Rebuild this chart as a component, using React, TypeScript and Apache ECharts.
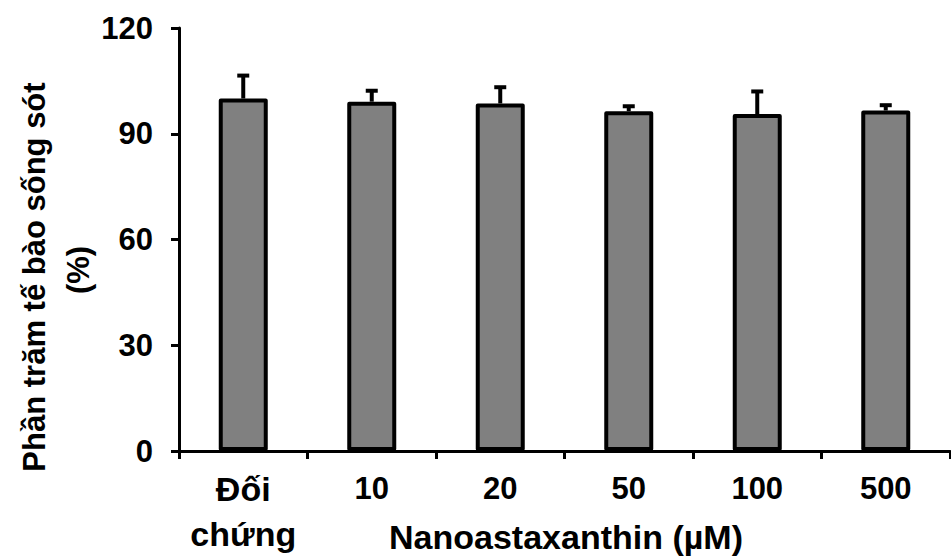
import React, { useEffect, useRef } from "react";
import * as echarts from "echarts";

const categories = ["Đối\nchứng", "10", "20", "50", "100", "500"];
const means = [100, 99.1, 98.6, 96.4, 95.6, 96.6];
const errors = [6.5, 3.1, 4.6, 1.4, 6.4, 1.5];
const yTicks = { min: 0, max: 120, interval: 30 };
const yTitle1 = "Phần trăm tế bào sống sót";
const yTitle2 = "(%)";
const xTitle = "Nanoastaxanthin (µM)";

const FONT = "'Liberation Sans', Arial, Helvetica, sans-serif";

export default function App() {
  const ref = useRef<HTMLDivElement>(null);
  useEffect(() => {
    if (!ref.current) return;
    const chart = echarts.init(ref.current, undefined, { renderer: "svg" });
    const errData = means.map((m, i) => [i, m, m + errors[i]]);
    chart.setOption({
      animation: false,
      backgroundColor: "#ffffff",
      grid: { left: 179, right: 1, top: 28, bottom: 105, outerBoundsMode: "none" },
      xAxis: {
        type: "category",
        data: categories,
        boundaryGap: true,
        axisLine: { show: true, lineStyle: { color: "#000", width: 3 } },
        axisTick: { show: true, length: 8, lineStyle: { color: "#000", width: 3 } },
        axisLabel: {
          color: "#000",
          fontFamily: FONT,
          fontWeight: "bold",
          fontSize: 31,
          lineHeight: 45,
          margin: 15,
          interval: 0,
          formatter: (v: string) =>
            v.indexOf("\n") >= 0
              ? v
                  .split("\n")
                  .map((s) => `{big|${s}}`)
                  .join("\n")
              : v,
          rich: {
            big: {
              color: "#000",
              fontFamily: FONT,
              fontWeight: "bold",
              fontSize: 34,
              lineHeight: 45,
            },
          },
        },
        splitLine: { show: false },
      },
      yAxis: {
        type: "value",
        min: yTicks.min,
        max: yTicks.max,
        interval: yTicks.interval,
        axisLine: { show: true, lineStyle: { color: "#000", width: 3 } },
        axisTick: { show: true, length: 8, lineStyle: { color: "#000", width: 3 } },
        axisLabel: {
          color: "#000",
          fontFamily: FONT,
          fontWeight: "bold",
          fontSize: 31,
          margin: 26,
        },
        splitLine: { show: false },
      },
      series: [
        {
          type: "bar",
          data: means,
          barWidth: 49,
          itemStyle: {
            color: "#808080",
            borderColor: "#000",
            borderWidth: 4,
            borderJoin: "round",
          },
          z: 2,
        },
        {
          type: "custom",
          data: errData,
          z: 3,
          renderItem: (params: any, api: any) => {
            const x = api.value(0);
            const m = api.value(1);
            const hi = api.value(2);
            const p0 = api.coord([x, m]);
            const p1 = api.coord([x, hi]);
            return {
              type: "group",
              children: [
                {
                  type: "line",
                  shape: { x1: p0[0], y1: p0[1], x2: p1[0], y2: p1[1] },
                  style: { stroke: "#000", lineWidth: 4 },
                },
                {
                  type: "line",
                  shape: { x1: p1[0] - 6, y1: p1[1], x2: p1[0] + 6, y2: p1[1] },
                  style: { stroke: "#000", lineWidth: 4 },
                },
              ],
            };
          },
        },
      ],
      graphic: [
        {
          type: "text",
          x: 34,
          y: 277,
          rotation: Math.PI / 2,
          style: {
            text: yTitle1,
            fill: "#000",
            font: `bold 31px ${FONT}`,
            textAlign: "center",
            textVerticalAlign: "middle",
          },
        },
        {
          type: "text",
          x: 78,
          y: 270,
          rotation: Math.PI / 2,
          style: {
            text: yTitle2,
            fill: "#000",
            font: `bold 31px ${FONT}`,
            textAlign: "center",
            textVerticalAlign: "middle",
          },
        },
        {
          type: "text",
          x: 566,
          y: 537,
          style: {
            text: xTitle,
            fill: "#000",
            font: `bold 34px ${FONT}`,
            textAlign: "center",
            textVerticalAlign: "middle",
          },
        },
      ],
    });
    return () => chart.dispose();
  }, []);
  return <div ref={ref} style={{ width: 951, height: 556, position: "absolute", left: 0, top: 0 }} />;
}
